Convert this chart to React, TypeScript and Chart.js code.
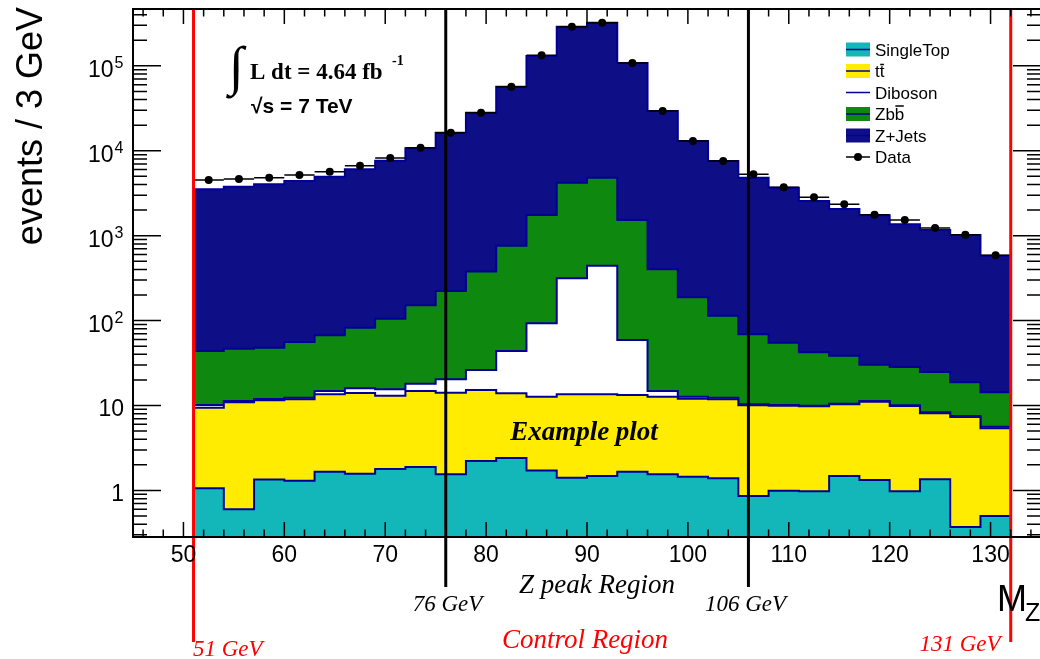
import React, { useEffect, useRef } from "react";
import { Chart, registerables } from "chart.js";

Chart.register(...registerables);

// ---------------- data ----------------
const BIN_LOW_EDGES = [51, 54, 57, 60, 63, 66, 69, 72, 75, 78, 81, 84, 87, 90, 93, 96, 99, 102, 105, 108, 111, 114, 117, 120, 123, 126, 129];
const BIN_WIDTH = 3;

const SINGLE_TOP = [1.06, 0.6, 1.34, 1.3, 1.66, 1.57, 1.79, 1.89, 1.55, 2.22, 2.41, 1.72, 1.41, 1.48, 1.66, 1.55, 1.45, 1.39, 0.86, 0.99, 0.98, 1.48, 1.33, 0.98, 1.35, 0.37, 0.5];
const TTBAR = [8.35, 10.3, 10.17, 10.52, 11.88, 12.46, 11.25, 12.92, 12.59, 13.0, 11.5, 10.97, 12.17, 12.06, 11.63, 11.14, 10.57, 10.43, 9.19, 8.95, 8.8, 8.84, 9.75, 8.88, 6.74, 6.95, 4.89];
const DIBOSON = [0.72, 0.39, 0.41, 0.53, 1.27, 1.91, 2.47, 3.24, 6.2, 10.95, 29.9, 80.1, 300.9, 429.1, 45.7, 2.12, 0.67, 0.53, 0.27, 0.19, 0.16, 0.17, 0.21, 0.19, 0.22, 0.2, 0.24];
const ZBB = [33.7, 35.3, 36.0, 43.6, 52.3, 66.5, 89.7, 133.2, 202.6, 352.0, 717.6, 1657, 3888, 4369, 1470, 386.7, 175.2, 101.8, 58.6, 44.8, 32.4, 28.1, 18.9, 18.35, 16.5, 11.23, 8.67];
const ZJETS = [3469, 3724, 3975, 4344, 4877, 5960, 7525, 10529, 16077, 27652, 55979, 128650, 284598, 316988, 106371, 28958, 12832, 7454, 4743, 3614, 2516, 2020, 1706, 1332, 1140, 998, 566];
const DATA = [4521, 4645, 4812, 5177, 5660, 6662, 8210, 10850, 16300, 28030, 56740, 132900, 288800, 321800, 107900, 29360, 13020, 7568, 5277, 3709, 2828, 2339, 1764, 1529, 1230, 1026, 587];

const X_MIN = 45;
const X_MAX = 135;
const Y_MIN = 0.2826;
const Y_MAX = 4.67e5;
const X_TICK_LABELS = [50, 60, 70, 80, 90, 100, 110, 120, 130];
const Y_TICK_LABELS = [1, 10, 100, 1000, 10000, 100000];
const ZPEAK_EDGES = [76, 106];
const CONTROL_EDGES = [51, 132];

// ---------------- style ----------------
const CYAN = "#14b7b9";
const YELLOW = "#ffec00";
const GREEN = "#0f880f";
const NAVY = "#0e0e86";
const OUTLINE = "#000096";
const RED = "#ff0000";
const SANS = "'Liberation Sans', Arial, Helvetica, sans-serif";
const SERIF = "'Liberation Serif', 'Times New Roman', Times, serif";

const CANVAS_W = 1050;
const CANVAS_H = 659;

function cumulative(list: number[][]): number[][] {
  const out: number[][] = [];
  let run = list[0].map(() => 0);
  for (const s of list) {
    run = run.map((v, i) => v + s[i]);
    out.push(run.slice());
  }
  return out;
}

function stepPoints(tops: number[]) {
  const pts = BIN_LOW_EDGES.map((e, i) => ({ x: e, y: tops[i] }));
  const last = BIN_LOW_EDGES.length - 1;
  pts.push({ x: BIN_LOW_EDGES[last] + BIN_WIDTH, y: tops[last] });
  return pts;
}

function errorBarPoints() {
  const pts: { x: number; y: number | null }[] = [];
  BIN_LOW_EDGES.forEach((e, i) => {
    pts.push({ x: e, y: DATA[i] });
    pts.push({ x: e + BIN_WIDTH, y: DATA[i] });
    pts.push({ x: e + BIN_WIDTH, y: null });
  });
  return pts;
}

const decorPlugin = {
  id: "rootDecor",
  afterDatasetsDraw(chart: any) {
    const { ctx, chartArea: a } = chart;
    const xs = chart.scales.x;
    ctx.save();
    ctx.lineWidth = 3;
    ctx.strokeStyle = "#000";
    for (const v of ZPEAK_EDGES) {
      const px = xs.getPixelForValue(v);
      ctx.beginPath();
      ctx.moveTo(px, a.top);
      ctx.lineTo(px, 587);
      ctx.stroke();
    }
    ctx.strokeStyle = RED;
    for (const v of CONTROL_EDGES) {
      const px = xs.getPixelForValue(v);
      ctx.beginPath();
      ctx.moveTo(px, a.top);
      ctx.lineTo(px, 642);
      ctx.stroke();
    }
    ctx.restore();
  },
  afterDraw(chart: any) {
    const { ctx, chartArea: a } = chart;
    const xs = chart.scales.x;
    const ys = chart.scales.y;
    ctx.save();

    // frame
    ctx.strokeStyle = "#000";
    ctx.lineWidth = 2;
    ctx.strokeRect(a.left, a.top, a.right - a.left, a.bottom - a.top);

    // x ticks (inward, bottom and top)
    ctx.lineWidth = 1.5;
    ctx.beginPath();
    for (let v = 46; v <= 134; v += 2) {
      const px = xs.getPixelForValue(v);
      const len = v % 10 === 0 ? 15 : 7.5;
      ctx.moveTo(px, a.bottom);
      ctx.lineTo(px, a.bottom - len);
      ctx.moveTo(px, a.top);
      ctx.lineTo(px, a.top + len);
    }
    // y ticks (inward, left and right)
    for (let e = -1; e <= 5; e++) {
      for (let k = 1; k <= 9; k++) {
        const v = k * Math.pow(10, e);
        if (v < ys.min || v > ys.max) continue;
        const py = ys.getPixelForValue(v);
        const len = k === 1 ? 28 : 14;
        ctx.moveTo(a.left, py);
        ctx.lineTo(a.left + len, py);
        ctx.moveTo(a.right, py);
        ctx.lineTo(a.right - len, py);
      }
    }
    ctx.stroke();

    // x tick labels
    ctx.fillStyle = "#000";
    ctx.font = `23px ${SANS}`;
    ctx.textAlign = "center";
    ctx.textBaseline = "alphabetic";
    for (const v of X_TICK_LABELS) {
      ctx.fillText(String(v), xs.getPixelForValue(v), 562);
    }

    // y tick labels
    for (const v of Y_TICK_LABELS) {
      const py = ys.getPixelForValue(v);
      const e = Math.round(Math.log10(v));
      ctx.textAlign = "right";
      if (e <= 1) {
        ctx.font = `23px ${SANS}`;
        ctx.fillText(String(v), 124, py + 10.5);
      } else {
        ctx.font = `16px ${SANS}`;
        ctx.fillText(String(e), 123.5, py + 2);
        ctx.font = `23px ${SANS}`;
        ctx.fillText("10", 113.5, py + 11.5);
      }
    }

    // axis titles
    ctx.save();
    ctx.translate(42, 7);
    ctx.rotate(-Math.PI / 2);
    ctx.textAlign = "right";
    ctx.font = `36px ${SANS}`;
    ctx.fillText("events / 3 GeV", 0, 0);
    ctx.restore();

    ctx.textAlign = "left";
    ctx.font = `36px ${SANS}`;
    ctx.fillText("M", 997, 611);
    ctx.font = `25px ${SANS}`;
    ctx.fillText("Z", 1025, 621);

    // luminosity box
    ctx.font = `bold 54px ${SERIF}`;
    ctx.fillText("\u222B", 229, 84);
    ctx.font = `bold 23px ${SERIF}`;
    ctx.fillText("L dt = 4.64 fb", 250, 78.5);
    ctx.font = `bold 14px ${SERIF}`;
    ctx.fillText("-1", 392, 65);
    ctx.font = `bold 21px ${SANS}`;
    ctx.fillText("\u221As = 7 TeV", 251, 113);

    // plot labels
    ctx.textAlign = "center";
    ctx.font = `italic bold 27px ${SERIF}`;
    ctx.fillText("Example plot", 584, 440);
    ctx.font = `italic 27px ${SERIF}`;
    ctx.fillText("Z peak Region", 597, 592.5);
    ctx.font = `italic 23px ${SERIF}`;
    ctx.fillText("76 GeV", 447.5, 610.5);
    ctx.fillText("106 GeV", 745.5, 610.5);
    ctx.fillStyle = RED;
    ctx.fillText("131 GeV", 960, 651);
    ctx.textAlign = "left";
    ctx.fillText("51 GeV", 193, 656);
    ctx.textAlign = "center";
    ctx.font = `italic 27px ${SERIF}`;
    ctx.fillText("Control Region", 585, 648);

    // legend
    const rows = [
      { label: "SingleTop", kind: "box", color: CYAN, bar: -1 },
      { label: "tt", kind: "box", color: YELLOW, bar: 1 },
      { label: "Diboson", kind: "line", color: "", bar: -1 },
      { label: "Zbb", kind: "box", color: GREEN, bar: 2 },
      { label: "Z+Jets", kind: "box", color: NAVY, bar: -1 },
      { label: "Data", kind: "marker", color: "", bar: -1 },
    ];
    const bx0 = 846;
    const bx1 = 870;
    rows.forEach((r, i) => {
      const cy = 49.5 + i * 21.5;
      if (r.kind === "box") {
        ctx.fillStyle = r.color;
        ctx.fillRect(bx0, cy - 7, bx1 - bx0, 14);
        ctx.strokeStyle = OUTLINE;
        ctx.lineWidth = 1.5;
        ctx.beginPath();
        ctx.moveTo(bx0, cy);
        ctx.lineTo(bx1, cy);
        ctx.stroke();
      } else if (r.kind === "line") {
        ctx.strokeStyle = OUTLINE;
        ctx.lineWidth = 1.5;
        ctx.beginPath();
        ctx.moveTo(bx0, cy);
        ctx.lineTo(bx1, cy);
        ctx.stroke();
      } else {
        ctx.strokeStyle = "#000";
        ctx.lineWidth = 1.5;
        ctx.beginPath();
        ctx.moveTo(bx0, cy);
        ctx.lineTo(bx1, cy);
        ctx.stroke();
        ctx.fillStyle = "#000";
        ctx.beginPath();
        ctx.arc((bx0 + bx1) / 2, cy, 4, 0, Math.PI * 2);
        ctx.fill();
      }
      ctx.fillStyle = "#000";
      ctx.font = `17px ${SANS}`;
      ctx.textAlign = "left";
      ctx.textBaseline = "alphabetic";
      const tx = 875;
      ctx.fillText(r.label, tx, cy + 6);
      if (r.bar >= 0) {
        const pre = ctx.measureText(r.label.slice(0, r.bar)).width;
        const w = ctx.measureText(r.label.charAt(r.bar)).width;
        const oy = r.label.charAt(r.bar) === "b" ? cy - 8 : cy - 6.5;
        ctx.strokeStyle = "#000";
        ctx.lineWidth = 1.5;
        ctx.beginPath();
        ctx.moveTo(tx + pre + 0.5, oy);
        ctx.lineTo(tx + pre + w - 0.5, oy);
        ctx.stroke();
      }
    });

    ctx.restore();
  },
};

export default function App() {
  const canvasRef = useRef<HTMLCanvasElement | null>(null);

  useEffect(() => {
    if (!canvasRef.current) return;
    const tops = cumulative([SINGLE_TOP, TTBAR, DIBOSON, ZBB, ZJETS]);
    const fills = [CYAN, YELLOW, "#ffffff", GREEN, NAVY];
    const labels = ["SingleTop", "ttbar", "Diboson", "Zbb", "Z+Jets"];
    const histSets = tops.map((t, i) => ({
      label: labels[i],
      data: stepPoints(t),
      stepped: "before" as const,
      borderColor: OUTLINE,
      borderWidth: 2,
      backgroundColor: fills[i],
      fill: i === 0 ? "start" : "-1",
      pointRadius: 0,
      tension: 0,
      order: 0,
    }));

    const chart = new Chart(canvasRef.current, {
      type: "line",
      data: {
        datasets: [
          ...histSets,
          {
            label: "Data error",
            data: errorBarPoints(),
            borderColor: "#000",
            borderWidth: 1.5,
            pointRadius: 0,
            fill: false,
            spanGaps: false,
            order: -1,
          },
          {
            label: "Data",
            data: BIN_LOW_EDGES.map((e, i) => ({ x: e + BIN_WIDTH / 2, y: DATA[i] })),
            showLine: false,
            pointRadius: 4,
            pointBackgroundColor: "#000",
            pointBorderColor: "#000",
            pointBorderWidth: 0,
            fill: false,
            order: -2,
          },
        ] as any,
      },
      options: {
        responsive: false,
        animation: false,
        devicePixelRatio: 1,
        layout: { padding: { top: 9, right: 9, left: 0, bottom: 0 }, autoPadding: false } as any,
        plugins: { legend: { display: false }, tooltip: { enabled: false } },
        events: [],
        scales: {
          x: {
            type: "linear",
            min: X_MIN,
            max: X_MAX,
            ticks: { display: false },
            grid: { display: false },
            border: { display: false },
            afterFit: (s: any) => {
              s.height = CANVAS_H - 537;
            },
          },
          y: {
            type: "logarithmic",
            min: Y_MIN,
            max: Y_MAX,
            ticks: { display: false },
            grid: { display: false },
            border: { display: false },
            afterFit: (s: any) => {
              s.width = 133;
            },
          },
        },
      },
      plugins: [decorPlugin],
    });
    return () => chart.destroy();
  }, []);

  return (
    <div style={{ position: "absolute", left: 0, top: 0, width: 1040, height: 659, overflow: "hidden", background: "#fff" }}>
      <canvas ref={canvasRef} width={CANVAS_W} height={CANVAS_H} style={{ display: "block", width: CANVAS_W, height: CANVAS_H }} />
    </div>
  );
}
